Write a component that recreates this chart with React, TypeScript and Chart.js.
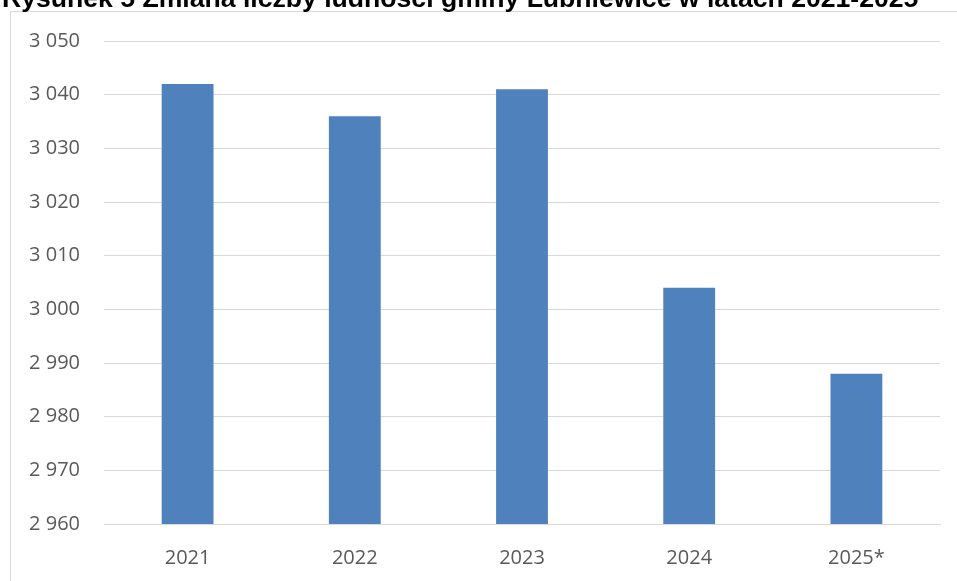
import React, { useEffect, useRef } from "react";
import { Chart, registerables } from "chart.js";

Chart.register(...registerables);

const TITLE = "Rysunek 5 Zmiana liczby ludności gminy Lubniewice w latach 2021-2025";
const categories = ["2021", "2022", "2023", "2024", "2025*"];
const population = [3042, 3036, 3041, 3004, 2988];
const yMin = 2960;
const yMax = 3050;
const yStep = 10;

const fmt = (v: number) => String(v).replace(/\B(?=(\d{3})+(?!\d))/g, " ");

export default function App() {
  const ref = useRef<HTMLCanvasElement | null>(null);
  useEffect(() => {
    if (!ref.current) return;
    const chart = new Chart(ref.current, {
      type: "bar",
      data: {
        labels: categories,
        datasets: [
          {
            data: population,
            backgroundColor: "#4F81BD",
            borderWidth: 0,
            barPercentage: 0.31,
            categoryPercentage: 1,
          },
        ],
      },
      options: {
        animation: false,
        responsive: false,
        maintainAspectRatio: false,
        layout: { padding: { left: 0, right: 17, top: 41, bottom: 0 } },
        plugins: { legend: { display: false }, tooltip: { enabled: false }, title: { display: false } },
        scales: {
          x: {
            grid: { display: false, drawTicks: false },
            border: { display: true, color: "#d9d9d9", width: 1 },
            ticks: {
              color: "#595959",
              font: { family: "'Open Sans', sans-serif", size: 20 },
              padding: 22,
            },
            afterFit: (s: any) => {
              s.height = 57;
            },
          },
          y: {
            min: yMin,
            max: yMax,
            grid: { color: "#d9d9d9", lineWidth: 1, drawTicks: false },
            border: { display: false },
            ticks: {
              stepSize: yStep,
              color: "#595959",
              font: { family: "'Open Sans', sans-serif", size: 20 },
              padding: 24,
              callback: (v: any) => fmt(Number(v)),
            },
            afterFit: (s: any) => {
              s.width = 104;
            },
          },
        },
      },
    });
    return () => chart.destroy();
  }, []);

  return (
    <div style={{ position: "fixed", left: 0, top: 0, width: 957, height: 581, overflow: "hidden", background: "#fff" }}>
      <div
        style={{
          position: "absolute",
          left: 10,
          top: 11,
          width: 1000,
          height: 1000,
          border: "1px solid #d9d9d9",
          boxSizing: "border-box",
        }}
      />
      <canvas ref={ref} width={957} height={581} style={{ position: "absolute", left: 0, top: 0 }} />
      <div
        style={{
          position: "absolute",
          left: 2,
          top: -17,
          whiteSpace: "nowrap",
          fontFamily: "'Liberation Sans', Arial, sans-serif",
          fontWeight: "bold",
          fontSize: 26.6,
          lineHeight: "30px",
          color: "#000",
        }}
      >
        {TITLE}
      </div>
    </div>
  );
}
